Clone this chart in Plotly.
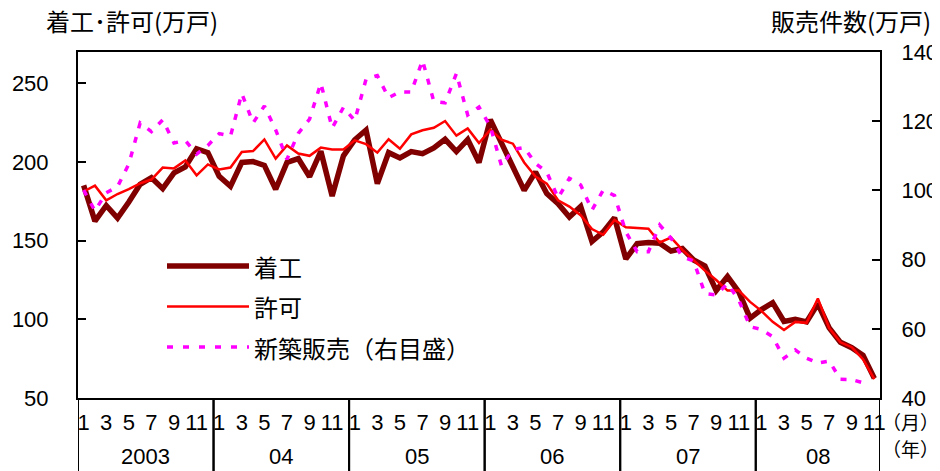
import plotly.graph_objects as go

# ---------------- data ----------------
years = ["2003", "04", "05", "06", "07", "08"]
months_per_year = [12, 12, 12, 12, 12, 11]
month_labels_shown = [1, 3, 5, 7, 9, 11]

# 着工 (万戸, left axis), Jan 2003 - Nov 2008
starts = [185.2, 162.5, 172.4, 164.4, 174.6, 185.9, 190.1, 183.1, 193.1, 196.9, 208.5, 206.0,
          190.9, 184.6, 199.8, 200.3, 197.9, 182.7, 199.8, 202.2, 190.7, 206.9, 178.4, 204.0,
          214.2, 220.4, 186.3, 206.0, 202.6, 206.7, 205.4, 209.0, 214.5, 206.7, 214.3, 199.7,
          227.0, 212.0, 197.0, 182.0, 193.7, 180.0, 173.6, 165.1, 171.8, 149.5, 155.6, 164.6,
          138.4, 148.2, 148.9, 148.4, 143.5, 145.0, 137.8, 133.9, 118.3, 127.2, 117.5, 100.8,
          106.2, 110.6, 98.7, 100.1, 98.4, 109.9, 94.6, 85.4, 82.0, 77.1, 62.5]

# 許可 (万戸, left axis)
permits = [181.3, 185.0, 175.7, 179.7, 182.8, 186.5, 188.9, 196.5, 196.0, 201.1, 191.6, 198.5,
           195.3, 196.5, 206.4, 207.0, 214.4, 202.2, 210.6, 205.4, 204.0, 209.2, 208.0, 208.0,
           213.8, 211.4, 206.0, 214.5, 208.5, 217.6, 220.2, 221.8, 226.1, 216.8, 221.4, 212.1,
           220.6, 214.2, 211.7, 199.8, 190.8, 186.3, 175.7, 171.7, 166.2, 157.4, 153.8, 163.2,
           158.6, 157.9, 157.6, 148.9, 152.0, 144.2, 137.4, 131.0, 125.0, 118.3, 118.3, 111.1,
           105.4, 98.4, 93.2, 98.4, 97.8, 113.3, 94.5, 85.4, 82.3, 74.6, 62.0]

# 新築販売 (万戸, right axis)
sales = [100.1, 94.1, 99.3, 101.1, 107.6, 119.5, 117.0, 120.4, 113.7, 114.4, 110.5, 113.0,
         116.4, 115.7, 128.0, 119.5, 124.4, 117.5, 109.0, 116.5, 120.6, 131.0, 118.0, 124.0,
         120.2, 132.1, 133.2, 126.8, 128.5, 128.4, 137.6, 125.7, 125.3, 133.8, 121.8, 124.1,
         118.5, 107.0, 111.8, 112.4, 107.8, 105.3, 97.8, 103.5, 101.6, 94.3, 100.1, 98.5,
         88.0, 82.3, 82.3, 90.0, 86.2, 80.8, 79.6, 70.2, 69.8, 73.0, 68.3, 60.6,
         59.8, 57.7, 51.5, 53.9, 51.5, 50.1, 50.7, 45.4, 45.3, 44.4, None]

left_ticks = [50, 100, 150, 200, 250]
right_ticks = [40, 60, 80, 100, 120, 140]

# ---------------- derived category axis ----------------
month_of_index = []
for n in months_per_year:
    month_of_index += list(range(1, n + 1))
x_idx = list(range(len(month_of_index)))
tickvals = [i for i, m in zip(x_idx, month_of_index) if m in month_labels_shown]
ticktext = [str(month_of_index[i]) for i in tickvals]

year_bounds = []
s = 0
for n in months_per_year:
    year_bounds.append((s - 0.5, s + n - 0.5))
    s += n

# ---------------- layout geometry ----------------
# page has an 8px body margin; the figure is sized so it fills the 940x471 window
OFF = 8
W, H = 940 - OFF, 471 - OFF
PLOT_L, PLOT_R, PLOT_T, PLOT_B = 78, 880, 52, 398   # page pixel coords of plot area
L, T = PLOT_L - OFF, PLOT_T - OFF
R, B = 940 - PLOT_R, 471 - PLOT_B
pw, ph = PLOT_R - PLOT_L, PLOT_B - PLOT_T


def pxx(x):
    return (x - PLOT_L) / pw


def pyy(y):
    return (PLOT_B - y) / ph


FONT = "Liberation Sans, Arial, Noto Sans CJK JP, sans-serif"
CJK = "Noto Sans CJK JP, Liberation Sans, sans-serif"

fig = go.Figure()
fig.add_trace(go.Scatter(x=x_idx, y=starts, mode="lines", name="着工",
                         line=dict(color="#800000", width=5.5), showlegend=False))
fig.add_trace(go.Scatter(x=x_idx, y=permits, mode="lines", name="許可",
                         line=dict(color="#FF0000", width=2.5), showlegend=False))
fig.add_trace(go.Scatter(x=x_idx, y=sales, mode="lines", name="新築販売（右目盛）",
                         line=dict(color="#FF00FF", width=3.5, dash="6px,9px"),
                         yaxis="y2", showlegend=False))

shapes = []
# year separators in the label band
for (a, b) in year_bounds:
    for xv in (a, b):
        shapes.append(dict(type="line", xref="x", yref="paper", x0=xv, x1=xv,
                           y0=0, y1=-B / ph, line=dict(color="black", width=2)))

# manual legend
leg = [("着工", dict(color="#800000", width=5.5), 266),
       ("許可", dict(color="#FF0000", width=2.5), 306.5),
       ("新築販売（右目盛）", dict(color="#FF00FF", width=3.5, dash="6px,10px"), 347)]
annotations = []
for name, ln, yy in leg:
    shapes.append(dict(type="line", xref="paper", yref="paper",
                       x0=pxx(167), x1=pxx(249), y0=pyy(yy), y1=pyy(yy), line=ln))
    annotations.append(dict(text=name, xref="paper", yref="paper", x=pxx(252), y=pyy(yy),
                            xanchor="left", yanchor="middle", showarrow=False,
                            font=dict(family=CJK, size=24, color="black")))

# year labels
for (a, b), yl in zip(year_bounds, years):
    annotations.append(dict(text=yl, xref="x", yref="paper", x=(a + b) / 2, y=pyy(456),
                            xanchor="center", yanchor="middle", showarrow=False,
                            font=dict(family=FONT, size=22, color="black")))

# axis titles and unit labels
annotations += [
    dict(text="着工･許可(万戸)", xref="paper", yref="paper", x=pxx(45), y=pyy(21),
         xanchor="left", yanchor="middle", showarrow=False, borderpad=0,
         font=dict(family=CJK, size=24, color="black")),
    dict(text="販売件数(万戸)", xref="paper", yref="paper", x=pxx(932), y=pyy(21),
         xanchor="right", yanchor="middle", showarrow=False, borderpad=0,
         font=dict(family=CJK, size=24, color="black")),
    dict(text="（月）", xref="paper", yref="paper", x=pxx(910), y=pyy(421),
         xanchor="center", yanchor="middle", showarrow=False, borderpad=0,
         font=dict(family=CJK, size=19, color="black")),
    dict(text="（年）", xref="paper", yref="paper", x=pxx(910), y=pyy(448),
         xanchor="center", yanchor="middle", showarrow=False, borderpad=0,
         font=dict(family=CJK, size=19, color="black")),
]

fig.update_layout(
    width=W, height=H,
    margin=dict(l=L, r=R, t=T, b=B, pad=0, autoexpand=False),
    paper_bgcolor="white", plot_bgcolor="white",
    font=dict(family=FONT, size=22, color="black"),
    showlegend=False,
    xaxis=dict(range=[-0.5, len(x_idx) - 0.5], tickvals=tickvals, ticktext=ticktext,
               tickangle=0, ticks="", showgrid=False, zeroline=False, automargin=False,
               showline=True, linecolor="black", linewidth=2, mirror=True,
               ticklabelstandoff=4, tickfont=dict(size=22)),
    yaxis=dict(range=[50, 270], tickvals=left_ticks, ticks="inside", ticklen=8,
               tickwidth=1.5, tickcolor="black", showgrid=False, zeroline=False,
               showline=True, linecolor="black", linewidth=2, automargin=False,
               ticklabelstandoff=23, tickfont=dict(size=22)),
    yaxis2=dict(range=[40, 140], tickvals=right_ticks, ticks="inside", ticklen=8,
                tickwidth=1.5, tickcolor="black", showgrid=False, zeroline=False,
                showline=True, linecolor="black", linewidth=2, automargin=False,
                overlaying="y", side="right", ticklabelstandoff=15,
                tickfont=dict(size=22)),
    shapes=shapes,
    annotations=annotations,
)

fig.write_html("out.html")
